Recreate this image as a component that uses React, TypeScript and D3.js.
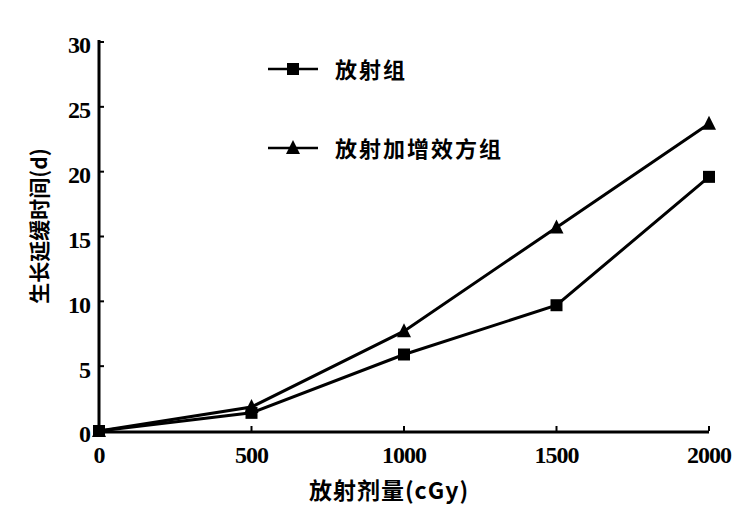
import React from "react";
import * as d3 from "d3";

const doses = [0, 500, 1000, 1500, 2000];
const radiation = [0, 1.4, 5.9, 9.7, 19.6];
const radiationPlus = [0, 1.85, 7.7, 15.7, 23.7];
const yTicks = [0, 5, 10, 15, 20, 25, 30];
const xTicks = [0, 500, 1000, 1500, 2000];
const seriesNames = ["放射组", "放射加增效方组"];

const W = 745, H = 506;
const x = d3.scaleLinear().domain([0, 2000]).range([99, 709]);
const y = d3.scaleLinear().domain([0, 30]).range([431, 42]);

const serif = "'Liberation Serif', 'Times New Roman', serif";
const cjk = "'Noto Sans CJK SC', sans-serif";

function Square({ cx, cy }: { cx: number; cy: number }) {
  return <rect x={cx - 6} y={cy - 6} width={12} height={12} fill="#000" />;
}
function Tri({ cx, cy }: { cx: number; cy: number }) {
  const s = 7;
  return <path d={`M${cx},${cy - s - 1}L${cx + s},${cy + s - 1}L${cx - s},${cy + s - 1}Z`} fill="#000" />;
}

export default function App() {
  const line = d3.line<number>().x((_, i) => x(doses[i])).y((d) => y(d));
  return (
    <svg width={W} height={H} style={{ position: "absolute", left: 0, top: 0, background: "#fff" }}>
      <rect width={W} height={H} fill="#fff" />
      {/* axes */}
      <line x1={x(0)} y1={y(30) - 2} x2={x(0)} y2={y(0) + 2} stroke="#000" strokeWidth={3} />
      <line x1={x(0) - 1.5} y1={y(0) + 1} x2={x(2000)} y2={y(0) + 1} stroke="#000" strokeWidth={3} />
      {yTicks.map((t) => (
        <g key={"y" + t}>
          <line x1={x(0)} x2={x(0) + 5} y1={y(t)} y2={y(t)} stroke="#000" strokeWidth={2} />
          <text x={x(0) - 9} y={y(t) + 3} dy="0.35em" textAnchor="end" fontFamily={serif} fontWeight="bold" fontSize={24} letterSpacing={-1}>
            {t}
          </text>
        </g>
      ))}
      {xTicks.map((t) => (
        <g key={"x" + t}>
          <line x1={x(t)} x2={x(t)} y1={y(0)} y2={y(0) - 5} stroke="#000" strokeWidth={2} />
          <text x={x(t)} y={463} textAnchor="middle" fontFamily={serif} fontWeight="bold" fontSize={24} letterSpacing={-1}>
            {t}
          </text>
        </g>
      ))}
      <text
        transform={`translate(47,${226}) rotate(-90)`}
        textAnchor="middle"
        fontFamily={cjk}
        fontWeight="bold"
        fontSize={21}
      >
        生长延缓时间(d)
      </text>
      <text x={389} y={499} textAnchor="middle" fontFamily={cjk} fontWeight="bold" fontSize={23} letterSpacing={1}>
        放射剂量(cGy)
      </text>
      {/* series */}
      <path d={line(radiationPlus) || ""} fill="none" stroke="#000" strokeWidth={3} />
      <path d={line(radiation) || ""} fill="none" stroke="#000" strokeWidth={3} />
      {radiation.map((v, i) => (
        <Square key={"s" + i} cx={x(doses[i])} cy={y(v)} />
      ))}
      {radiationPlus.map((v, i) => (
        <Tri key={"t" + i} cx={x(doses[i])} cy={y(v)} />
      ))}
      {/* legend */}
      <line x1={268} x2={318} y1={69} y2={69} stroke="#000" strokeWidth={2.5} />
      <Square cx={293} cy={69} />
      <text x={335} y={70} dy="0.35em" fontFamily={cjk} fontWeight="bold" fontSize={22} letterSpacing={2}>
        {seriesNames[0]}
      </text>
      <line x1={268} x2={318} y1={148} y2={148} stroke="#000" strokeWidth={2.5} />
      <Tri cx={293} cy={148} />
      <text x={335} y={149} dy="0.35em" fontFamily={cjk} fontWeight="bold" fontSize={22} letterSpacing={2}>
        {seriesNames[1]}
      </text>
    </svg>
  );
}
